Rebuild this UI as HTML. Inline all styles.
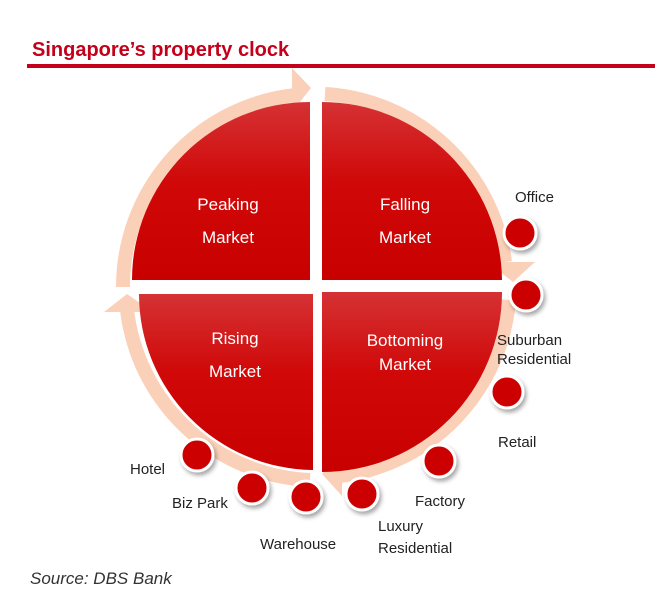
<!DOCTYPE html>
<html><head><meta charset="utf-8"><style>
html,body{margin:0;padding:0;background:#fff;}
svg{display:block;}
text{font-family:"Liberation Sans",sans-serif;}
</style></head><body>
<svg width="668" height="604" viewBox="0 0 668 604" xmlns="http://www.w3.org/2000/svg">
<defs>
<linearGradient id="g" x1="0" y1="0" x2="0" y2="1">
<stop offset="0" stop-color="#d53234"/><stop offset="0.45" stop-color="#d00808"/><stop offset="1" stop-color="#c80000"/>
</linearGradient>
<filter id="sh" x="-50%" y="-50%" width="200%" height="200%"><feDropShadow dx="2" dy="3" stdDeviation="2" flood-color="#000" flood-opacity="0.35"/></filter>
</defs>
<text x="32" y="56" font-size="20" font-weight="bold" fill="#c4001a">Singapore’s property clock</text>
<rect x="27" y="64" width="628" height="4" fill="#c4001a"/>

<g fill="none" stroke="#fbd0b8" stroke-width="14">
<path d="M123 287 A193 193 0 0 1 296 95"/>
<path d="M325 94 A193 193 0 0 1 505 262"/>
<path d="M310 480 A193 193 0 0 1 127 310"/>
<path d="M509 300 A193 193 0 0 1 340 476"/>
</g>
<g fill="#fbd0b8">
<polygon points="292,68 311,88 292,112"/>
<polygon points="487,262 535,262 513,282"/>
<polygon points="104,312 153,312 127,294"/>
<polygon points="342,452 342,496 322,474"/>
</g>

<path d="M310 280 L132 280 A178 178 0 0 1 310 102 Z" fill="url(#g)"/>
<path d="M322 280 L322 102 A180 180 0 0 1 502 280 Z" fill="url(#g)"/>
<path d="M313 294 L139 294 A176 176 0 0 0 313 470 Z" fill="url(#g)"/>
<path d="M322 292 L502 292 A180 180 0 0 1 322 472 Z" fill="url(#g)"/>

<g fill="#fff" font-size="17" text-anchor="middle">
<text x="228" y="210">Peaking</text><text x="228" y="243">Market</text>
<text x="405" y="210">Falling</text><text x="405" y="243">Market</text>
<text x="235" y="344">Rising</text><text x="235" y="377">Market</text>
<text x="405" y="346">Bottoming</text><text x="405" y="370">Market</text>
</g>

<g fill="#cc0000" stroke="#fff" stroke-width="3" filter="url(#sh)">
<circle cx="520" cy="233" r="16"/>
<circle cx="526" cy="295" r="16"/>
<circle cx="507" cy="392" r="16"/>
<circle cx="439" cy="461" r="16"/>
<circle cx="362" cy="494" r="16"/>
<circle cx="306" cy="497" r="16"/>
<circle cx="252" cy="488" r="16"/>
<circle cx="197" cy="455" r="16"/>
</g>

<g fill="#222" font-size="15">
<text x="515" y="202">Office</text>
<text x="497" y="345">Suburban</text>
<text x="497" y="364">Residential</text>
<text x="498" y="447">Retail</text>
<text x="415" y="506">Factory</text>
<text x="378" y="531">Luxury</text>
<text x="378" y="553">Residential</text>
<text x="260" y="549">Warehouse</text>
<text x="172" y="508">Biz Park</text>
<text x="130" y="474">Hotel</text>
</g>
<text x="30" y="584" font-size="17" font-style="italic" fill="#333">Source: DBS Bank</text>
</svg>
</body></html>
